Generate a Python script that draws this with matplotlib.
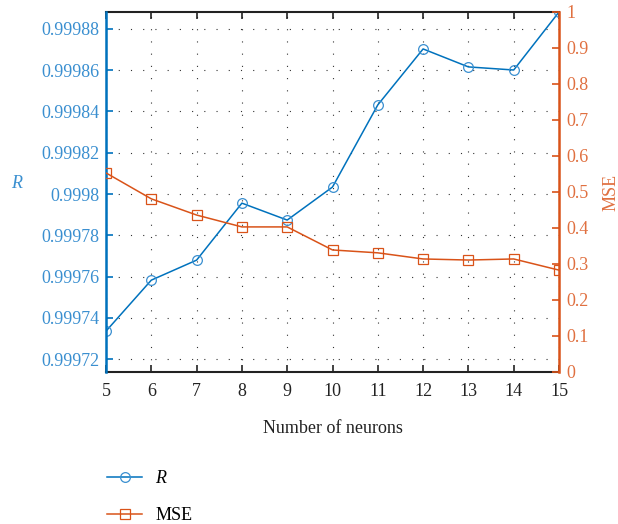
import matplotlib
matplotlib.use("Agg")
import matplotlib.pyplot as plt
from matplotlib.ticker import FuncFormatter, FixedLocator

neurons = [5, 6, 7, 8, 9, 10, 11, 12, 13, 14, 15]
r_values = [0.9997336, 0.9997583, 0.9997680, 0.9997956, 0.9997874, 0.9998034,
            0.9998432, 0.9998703, 0.9998616, 0.9998601, 0.9998882]
mse_values = [0.553, 0.481, 0.436, 0.403, 0.403, 0.339, 0.331, 0.314, 0.311, 0.314, 0.283]
r_ticks = [0.99972, 0.99974, 0.99976, 0.99978, 0.9998, 0.99982, 0.99984, 0.99986, 0.99988]
mse_ticks = [0, 0.1, 0.2, 0.3, 0.4, 0.5, 0.6, 0.7, 0.8, 0.9, 1]

plt.rcParams['font.family'] = ['Liberation Serif', 'DejaVu Serif']
plt.rcParams['mathtext.fontset'] = 'custom'
plt.rcParams['mathtext.it'] = 'Liberation Serif:italic'
plt.rcParams['mathtext.rm'] = 'Liberation Serif'
BLUE = '#0072BD'
BLUE_T = '#3a8fd0'
ORANGE = '#D95319'
ORANGE_T = '#e07040'
FS = 13

fig = plt.figure(figsize=(6.18, 5.24), dpi=100)
ax = fig.add_axes([106/618, 1-372/524, (559-106)/618, (372-12)/524])
ax2 = ax.twinx()

l1, = ax.plot(neurons, r_values, color=BLUE, lw=1.1, marker='o', ms=7,
              mfc='none', mec='#3a8fd0', mew=0.9, label='$R$', zorder=3)
l2, = ax2.plot(neurons, mse_values, color=ORANGE, lw=1.1, marker='s', ms=6.5,
               mfc='none', mec=ORANGE, mew=0.9, label='MSE', zorder=3)

ax.set_xlim(5, 15)
ax.set_ylim(0.9997138, 0.9998882)
ax2.set_ylim(0, 1)
ax.set_xticks(neurons)
ax.yaxis.set_major_locator(FixedLocator(r_ticks))
ax.yaxis.set_major_formatter(FuncFormatter(lambda v, p: f"{v:.5f}".rstrip('0')))
ax2.yaxis.set_major_locator(FixedLocator(mse_ticks))
ax2.yaxis.set_major_formatter(FuncFormatter(lambda v, p: f"{v:.1f}".rstrip('0').rstrip('.') if v not in (0, 1) else f"{int(v)}"))

ax.grid(True, linestyle=(0, (1, 10)), color='#333333', lw=0.8)
ax.tick_params(axis='x', direction='in', length=5, width=1.2, top=True,
               labelsize=FS, colors='#222222', pad=8)
ax.tick_params(axis='y', direction='in', length=5, width=1.2, colors=BLUE,
               labelcolor=BLUE_T, labelsize=FS, pad=5)
ax2.tick_params(axis='y', direction='in', length=5, width=1.2, colors=ORANGE,
                labelcolor=ORANGE_T, labelsize=FS, pad=5)

for s in ['top', 'bottom']:
    ax.spines[s].set_linewidth(1.5)
    ax.spines[s].set_color('#222222')
ax2.spines['left'].set_color(BLUE)
ax2.spines['left'].set_linewidth(1.8)
ax2.spines['right'].set_color(ORANGE)
ax2.spines['right'].set_linewidth(1.8)
ax2.spines['top'].set_visible(False)
ax2.spines['bottom'].set_visible(False)
ax.spines['left'].set_color(BLUE)
ax.spines['right'].set_visible(False)

ax.set_xlabel('Number of neurons', fontsize=FS, color='#222222', labelpad=14)
ax.set_ylabel('$R$', fontsize=FS, color=BLUE_T, rotation=0, labelpad=14)
ax.yaxis.set_label_coords(-0.195, 0.5)
ax2.set_ylabel('MSE', fontsize=FS, color=ORANGE_T, rotation=90, labelpad=10)

fig.legend([l1, l2], ['$R$', 'MSE'], loc='upper left',
           bbox_to_anchor=(91/618, 1-454/524), frameon=False, fontsize=FS,
           handlelength=1.95, handletextpad=0.7, labelspacing=1.1)

fig.savefig('out.png', dpi=100)
